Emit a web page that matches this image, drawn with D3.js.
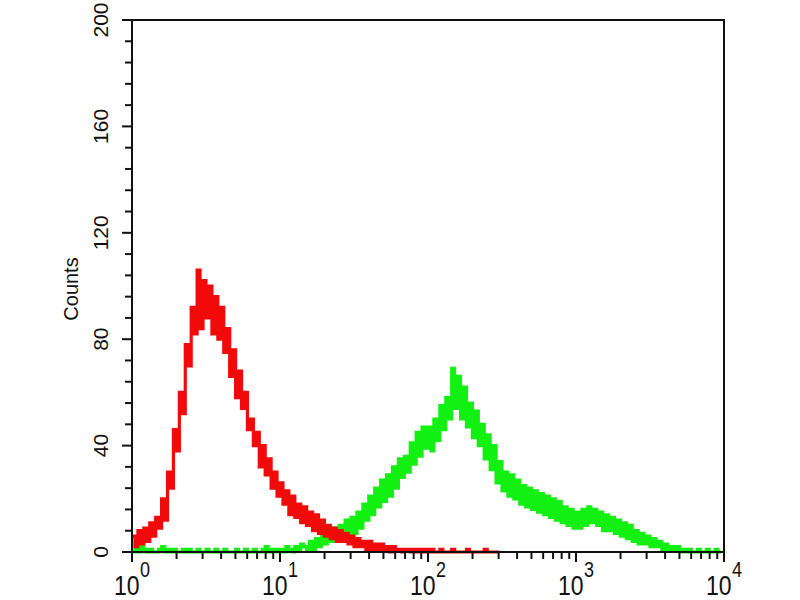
<!DOCTYPE html>
<html><head><meta charset="utf-8">
<script src="https://cdn.jsdelivr.net/npm/d3@7"></script>
<style>body{margin:0;background:#fff}svg{display:block}</style>
</head><body>
<svg id="c" width="800" height="600"></svg>
<script>
// Histogram channels: 50 bins per decade, from 10^0 to 10^4
const binsPerDecade = 50;
const redCounts = [
 6,2,8,3,9,4,11,6,13,9, 20,12,30,24,46,38,60,52,78,70,
 92,82,106,84,102,88,100,82,96,80, 92,75,84,66,76,58,68,54,60,46,
 50,40,45,32,40,29,35,24,30,21, 26,18,23,14,21,13,18,11,17,10,
 15,8,14,7,12,6,10,5,9,4, 8,4,7,3,6,2,5,2,4,1,
 4,1,3,1,3,1,2,0,2,1, 1,0,1,1,0,1,0,1,0,1,
 0,1,0,0,1,0,0,0,1,0, 0,0,0,1,0,0,0,0,0,1, 0,0,0,0,0
];
const greenCounts = [
 0,1,0,2,1,0,1,0,0,1, 2,0,1,0,1,0,0,1,0,1,
 0,0,1,0,0,1,0,0,1,0, 0,1,0,0,0,1,0,0,1,0,
 0,1,0,0,1,2,0,1,1,0, 1,0,2,1,0,2,1,3,2,1,
 4,1,5,2,7,3,8,4,9,5, 10,5,12,6,13,7,15,9,18,12,
 21,14,24,17,27,19,29,21,32,24, 35,28,36,30,41,33,45,36,47,39,
 47,38,50,42,55,46,58,50,69,54, 66,50,62,47,56,43,53,40,48,35,
 44,31,40,26,34,23,30,21,29,20, 27,18,25,17,24,16,23,15,22,14,
 21,13,20,12,19,11,17,10,16,9, 15,9,16,10,17,11,16,10,15,8,
 14,8,13,7,12,6,11,5,10,4, 8,3,7,3,6,2,5,2,4,1,
 3,1,2,1,2,0,1,0,1,0, 0,1,0,0,1,0,0,1,0,0
];
const yTicks = [0, 40, 80, 120, 160, 200];
const xDecades = [0, 1, 2, 3, 4];
const yLabel = "Counts";

const svg = d3.select("#c");
const L = 132, R = 724, T = 20, B = 552;
const x = d3.scaleLog().domain([1, 1e4]).range([L, R]);
const y = d3.scaleLinear().domain([0, 200]).range([B, T]);

function seriesPoints(arr) {
  return arr.map((v, i) => [Math.pow(10, i / binsPerDecade), v]);
}
const line = d3.line().x(d => x(d[0])).y(d => y(d[1])).curve(d3.curveStepAfter);

const plot = svg.append("g");
plot.append("path").datum(seriesPoints(greenCounts))
  .attr("d", line).attr("fill", "none").attr("stroke", "#12f012")
  .attr("stroke-width", 3.2).attr("stroke-linejoin", "miter");
plot.append("path").datum(seriesPoints(redCounts))
  .attr("d", line).attr("fill", "none").attr("stroke", "#f20a0a")
  .attr("stroke-width", 3.2).attr("stroke-linejoin", "miter");

// frame
svg.append("rect").attr("x", L).attr("y", T).attr("width", R - L).attr("height", B - T)
  .attr("fill", "none").attr("stroke", "#111").attr("stroke-width", 2);

// y axis ticks every 8 counts
const yMinor = d3.range(0, 201, 8);
svg.append("g").selectAll("line").data(yMinor).join("line")
  .attr("x1", L).attr("x2", d => L - (d % 40 === 0 ? 10 : 7))
  .attr("y1", d => y(d)).attr("y2", d => y(d))
  .attr("stroke", "#111").attr("stroke-width", 2);
svg.append("g").selectAll("text").data(yTicks).join("text")
  .attr("transform", d => `translate(108,${y(d)}) rotate(-90)`)
  .attr("text-anchor", "middle")
  .attr("font-family", "Liberation Sans, Arial, sans-serif")
  .attr("font-size", 21).attr("fill", "#111")
  .text(d => d);

svg.append("text").attr("transform", "translate(78,289) rotate(-90)")
  .attr("text-anchor", "middle")
  .attr("font-family", "Liberation Sans, Arial, sans-serif")
  .attr("font-size", 20).attr("fill", "#111").text(yLabel);

// x axis ticks
const xMinor = [];
for (let dcd = 0; dcd < 4; dcd++) for (let m = 2; m <= 9; m++) xMinor.push(m * Math.pow(10, dcd));
svg.append("g").selectAll("line").data(xMinor).join("line")
  .attr("x1", d => x(d)).attr("x2", d => x(d)).attr("y1", B).attr("y2", B + 7)
  .attr("stroke", "#111").attr("stroke-width", 2);
svg.append("g").selectAll("line").data(xDecades).join("line")
  .attr("x1", d => x(Math.pow(10, d))).attr("x2", d => x(Math.pow(10, d)))
  .attr("y1", B).attr("y2", B + 10)
  .attr("stroke", "#111").attr("stroke-width", 2);

const xl = svg.append("g").selectAll("g").data(xDecades).join("g")
  .attr("transform", d => `translate(${x(Math.pow(10, d)) - 18},595) scale(1,1.22)`);
xl.append("text").attr("x", 0).attr("y", 0)
  .attr("font-family", "Liberation Sans, Arial, sans-serif")
  .attr("font-size", 23).attr("fill", "#111").text("10");
xl.append("text").attr("x", 26).attr("y", -15)
  .attr("font-family", "Liberation Sans, Arial, sans-serif")
  .attr("font-size", 18).attr("fill", "#111").text(d => d);
</script>
</body></html>
